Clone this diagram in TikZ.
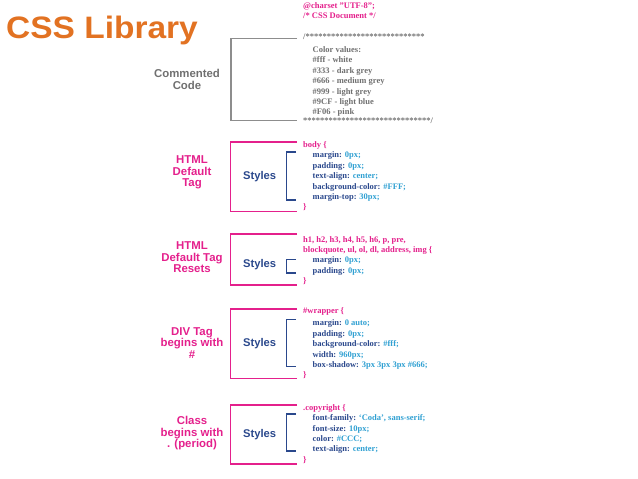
\documentclass[tikz,border=0pt]{standalone}
\usepackage{fontspec}
\setmainfont{Liberation Serif}
\setsansfont{Liberation Sans}
\usetikzlibrary{positioning}
\definecolor{cssorange}{RGB}{226,114,34}
\definecolor{csspink}{RGB}{228,32,140}
\definecolor{cssnavy}{RGB}{42,72,140}
\definecolor{cssblue}{RGB}{48,160,210}
\definecolor{cssgrey}{RGB}{112,112,112}
\newcommand{\prop}[2]{\hspace*{9.5pt}\textcolor{cssnavy}{#1:} \textcolor{cssblue}{#2;}}
\newcommand{\stars}{****************************}
\begin{document}
\begin{tikzpicture}[x=1pt,y=-1pt,
    tag/.style = {font=\sffamily\bfseries\fontsize{11.4}{11.7}\selectfont, text=csspink, align=center, inner sep=0pt},
    sty/.style = {font=\sffamily\bfseries\fontsize{11.2}{12}\selectfont, text=cssnavy, inner sep=0pt},
    code/.style = {font=\rmfamily\bfseries\fontsize{8.5}{10.4}\selectfont, text=csspink, align=left, anchor=north west, inner sep=0pt},
    outer/.style = {draw=csspink, line width=1.3pt},
    inner/.style = {draw=cssnavy, line width=1.3pt},
    note/.style = {draw=cssgrey!80, line width=1.2pt}]
    \useasboundingbox (0,0) rectangle (638,479);

    \node[font=\sffamily\bfseries\fontsize{31}{31}\selectfont, text=cssorange, anchor=base west, inner sep=0pt] (title) at (6,38.3) {\scalebox{1.08}[1]{CSS Library}};

    \node[code] (head) at (303,2.5) {@charset "UTF-8";\\/* CSS Document */};

    \node[tag, text=cssgrey] (tag0) at (187,79.3) {Commented\\Code};
    \node[code, text=cssgrey] (code0) at (303,34) {/\stars\\[2.3pt]
        \hspace*{9.5pt}Color values:\\
        \hspace*{9.5pt}\#fff - white\\
        \hspace*{9.5pt}\#333 - dark grey\\
        \hspace*{9.5pt}\#666 - medium grey\\
        \hspace*{9.5pt}\#999 - light grey\\
        \hspace*{9.5pt}\#9CF - light blue\\
        \hspace*{9.5pt}\#F06 - pink\\[-1.4pt]
        \stars**/};
    \coordinate (a0) at (297,38.7);
    \coordinate (b0) at (297,120.7);
    \draw[note] (a0) -- ++(-66,0) |- (b0);

    \node[tag] (tag1) at (192,172.3) {HTML\\Default\\Tag};
    \node[sty] (sty1) at (259.7,176.5) {Styles};
    \node[code] (code1) at (303,141.5) {body \{\\
        \prop{margin}{0px}\\
        \prop{padding}{0px}\\
        \prop{text-align}{center}\\
        \prop{background-color}{\#FFF}\\
        \prop{margin-top}{30px}\\
        \}};
    \coordinate (a1) at (297,142);
    \coordinate (b1) at (297,211.5);
    \coordinate (c1) at (296,152);
    \coordinate (d1) at (296,200);
    \draw[outer] (a1) -| ([xshift=-12.5pt]sty1.west |- a1) |- (b1);
    \draw[inner] (c1) -- ++(-9.3,0) |- (d1);

    \node[tag] (tag2) at (192,257.3) {HTML\\Default Tag\\Resets};
    \node[sty] (sty2) at (259.7,265) {Styles};
    \node[code] (code2) at (303,236) {h1, h2, h3, h4, h5, h6, p, pre,\\
        blockquote, ul, ol, dl, address, img \{\\
        \prop{margin}{0px}\\
        \prop{padding}{0px}\\
        \}};
    \coordinate (a2) at (297,234);
    \coordinate (b2) at (297,285);
    \coordinate (c2) at (296,259.3);
    \coordinate (d2) at (296,273);
    \draw[outer] (a2) -| ([xshift=-12.5pt]sty2.west |- a2) |- (b2);
    \draw[inner] (c2) -- ++(-9.3,0) |- (d2);

    \node[tag] (tag3) at (192,343) {DIV Tag\\begins with\\\#};
    \node[sty] (sty3) at (259.7,343.3) {Styles};
    \node[code] (code3) at (303,307.5) {\#wrapper \{\\[1.9pt]
        \prop{margin}{0 auto}\\
        \prop{padding}{0px}\\
        \prop{background-color}{\#fff}\\
        \prop{width}{960px}\\
        \prop{box-shadow}{3px 3px 3px \#666}\\
        \}};
    \coordinate (a3) at (297,309);
    \coordinate (b3) at (297,378.3);
    \coordinate (c3) at (296,319.3);
    \coordinate (d3) at (296,366.7);
    \draw[outer] (a3) -| ([xshift=-12.5pt]sty3.west |- a3) |- (b3);
    \draw[inner] (c3) -- ++(-9.3,0) |- (d3);

    \node[tag] (tag4) at (192,433.3) {Class\\begins with\\. (period)};
    \node[sty] (sty4) at (259.7,434.3) {Styles};
    \node[code] (code4) at (303,404.2) {.copyright \{\\
        \prop{font-family}{`Coda', sans-serif}\\
        \prop{font-size}{10px}\\
        \prop{color}{\#CCC}\\
        \prop{text-align}{center}\\
        \}};
    \coordinate (a4) at (297,405);
    \coordinate (b4) at (297,464);
    \coordinate (c4) at (296,414);
    \coordinate (d4) at (296,451);
    \draw[outer] (a4) -| ([xshift=-12.5pt]sty4.west |- a4) |- (b4);
    \draw[inner] (c4) -- ++(-9.3,0) |- (d4);
\end{tikzpicture}
\end{document}
